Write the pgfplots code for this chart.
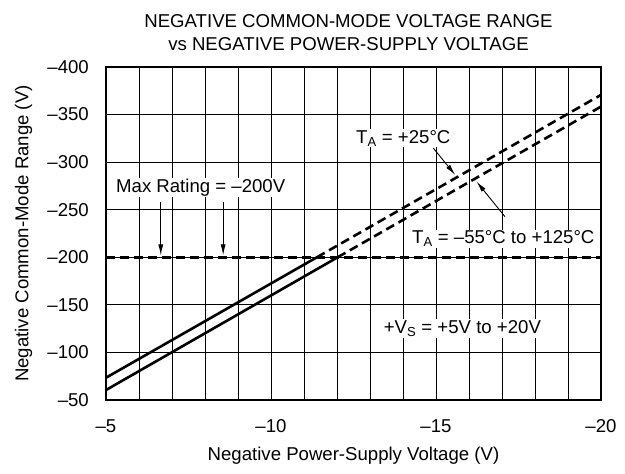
\documentclass[border=0pt]{standalone}
\usepackage{fontspec}
\setmainfont{Liberation Sans}
\usepackage{pgfplots}
\pgfplotsset{compat=1.18}
\usetikzlibrary{arrows.meta}
\begin{document}
\fontsize{18.6bp}{23.3bp}\selectfont
\begin{tikzpicture}[font=\fontsize{18.6bp}{23.3bp}\selectfont]
\path[use as bounding box] (0,0) rectangle (625bp,474bp);
\begin{axis}[
  at={(106bp,74bp)}, anchor=south west,
  scale only axis, width=495bp, height=333bp,
  xmin=-20, xmax=-5, ymin=-400, ymax=-50,
  x dir=reverse, y dir=reverse,
  allow reversal of rel axis cs=false,
  xtick={-20,-15,-10,-5}, xticklabels={–20,–15,–10,–5},
  minor xtick={-19,-18,...,-6},
  ytick={-400,-350,-300,-250,-200,-150,-100,-50},
  yticklabels={–400,–350,–300,–250,–200,–150,–100,–50},
  major tick length=0pt, minor tick length=0pt,
  grid=both,
  grid style={black, line width=0.9bp},
  minor grid style={black, line width=0.9bp},
  major grid style={black, line width=0.9bp},
  axis line style={line width=2.6bp},
  xticklabel style={anchor=center, inner sep=0pt, yshift=-26.5bp},
  yticklabel style={anchor=east, inner sep=0pt, xshift=-17bp},
  xlabel={Negative Power-Supply Voltage (V)},
  ylabel={Negative Common-Mode Range (V)},
  xlabel style={at={(rel axis cs:0.5,1.1802)}, anchor=base, inner sep=0pt},
  ylabel style={at={(rel axis cs:1.157,0.5)}, anchor=base, inner sep=0pt},
  title={NEGATIVE COMMON-MODE VOLTAGE RANGE\\vs NEGATIVE POWER-SUPPLY VOLTAGE},
  title style={at={(rel axis cs:0.5,0)}, anchor=south, yshift=10bp, xshift=-5bp, inner sep=0pt, align=center},
]
% T_A = +25 C
\addplot[line width=2.6bp] coordinates {(-5,-73.4) (-11.39,-200)};
\addplot[line width=2.6bp, dash pattern=on 9bp off 5bp] coordinates {(-11.39,-200) (-20,-370.7)};
% T_A = -55 C to +125 C
\addplot[line width=2.6bp] coordinates {(-5,-60.5) (-12.02,-200)};
\addplot[line width=2.6bp, dash pattern=on 9bp off 5bp] coordinates {(-12.02,-200) (-20,-358.4)};
% Max rating
\addplot[line width=2.6bp, dash pattern=on 9bp off 5bp] coordinates {(-5,-200) (-20,-200)};

\node[fill=white, inner sep=1bp, anchor=base] at (axis cs:-7.87,-268.1) {Max Rating = –200V};
\draw[line width=0.9bp, -{Latex[length=11bp,width=5bp]}] (axis cs:-6.66,-258.5) -- (axis cs:-6.66,-202);
\draw[line width=0.9bp, -{Latex[length=11bp,width=5bp]}] (axis cs:-8.55,-258.5) -- (axis cs:-8.55,-202);

\node[fill=white, inner sep=1bp, anchor=base] at (axis cs:-14.01,-319.7) {T\textsubscript{A} = +25°C};
\draw[line width=0.9bp, -{Latex[length=11bp,width=5bp]}] (axis cs:-14.92,-314.7) -- (axis cs:-15.58,-286.6);

\node[fill=white, inner sep=1bp, anchor=base] at (axis cs:-17.04,-214) {T\textsubscript{A} = –55°C to +125°C};
\draw[line width=0.9bp, -{Latex[length=11bp,width=5bp]}] (axis cs:-17.09,-242.7) -- (axis cs:-16.23,-279.5);

\node[fill=white, inner sep=1bp, anchor=base] at (axis cs:-15.8,-120.1) {+V\textsubscript{S} = +5V to +20V};
\end{axis}
\end{tikzpicture}
\end{document}
